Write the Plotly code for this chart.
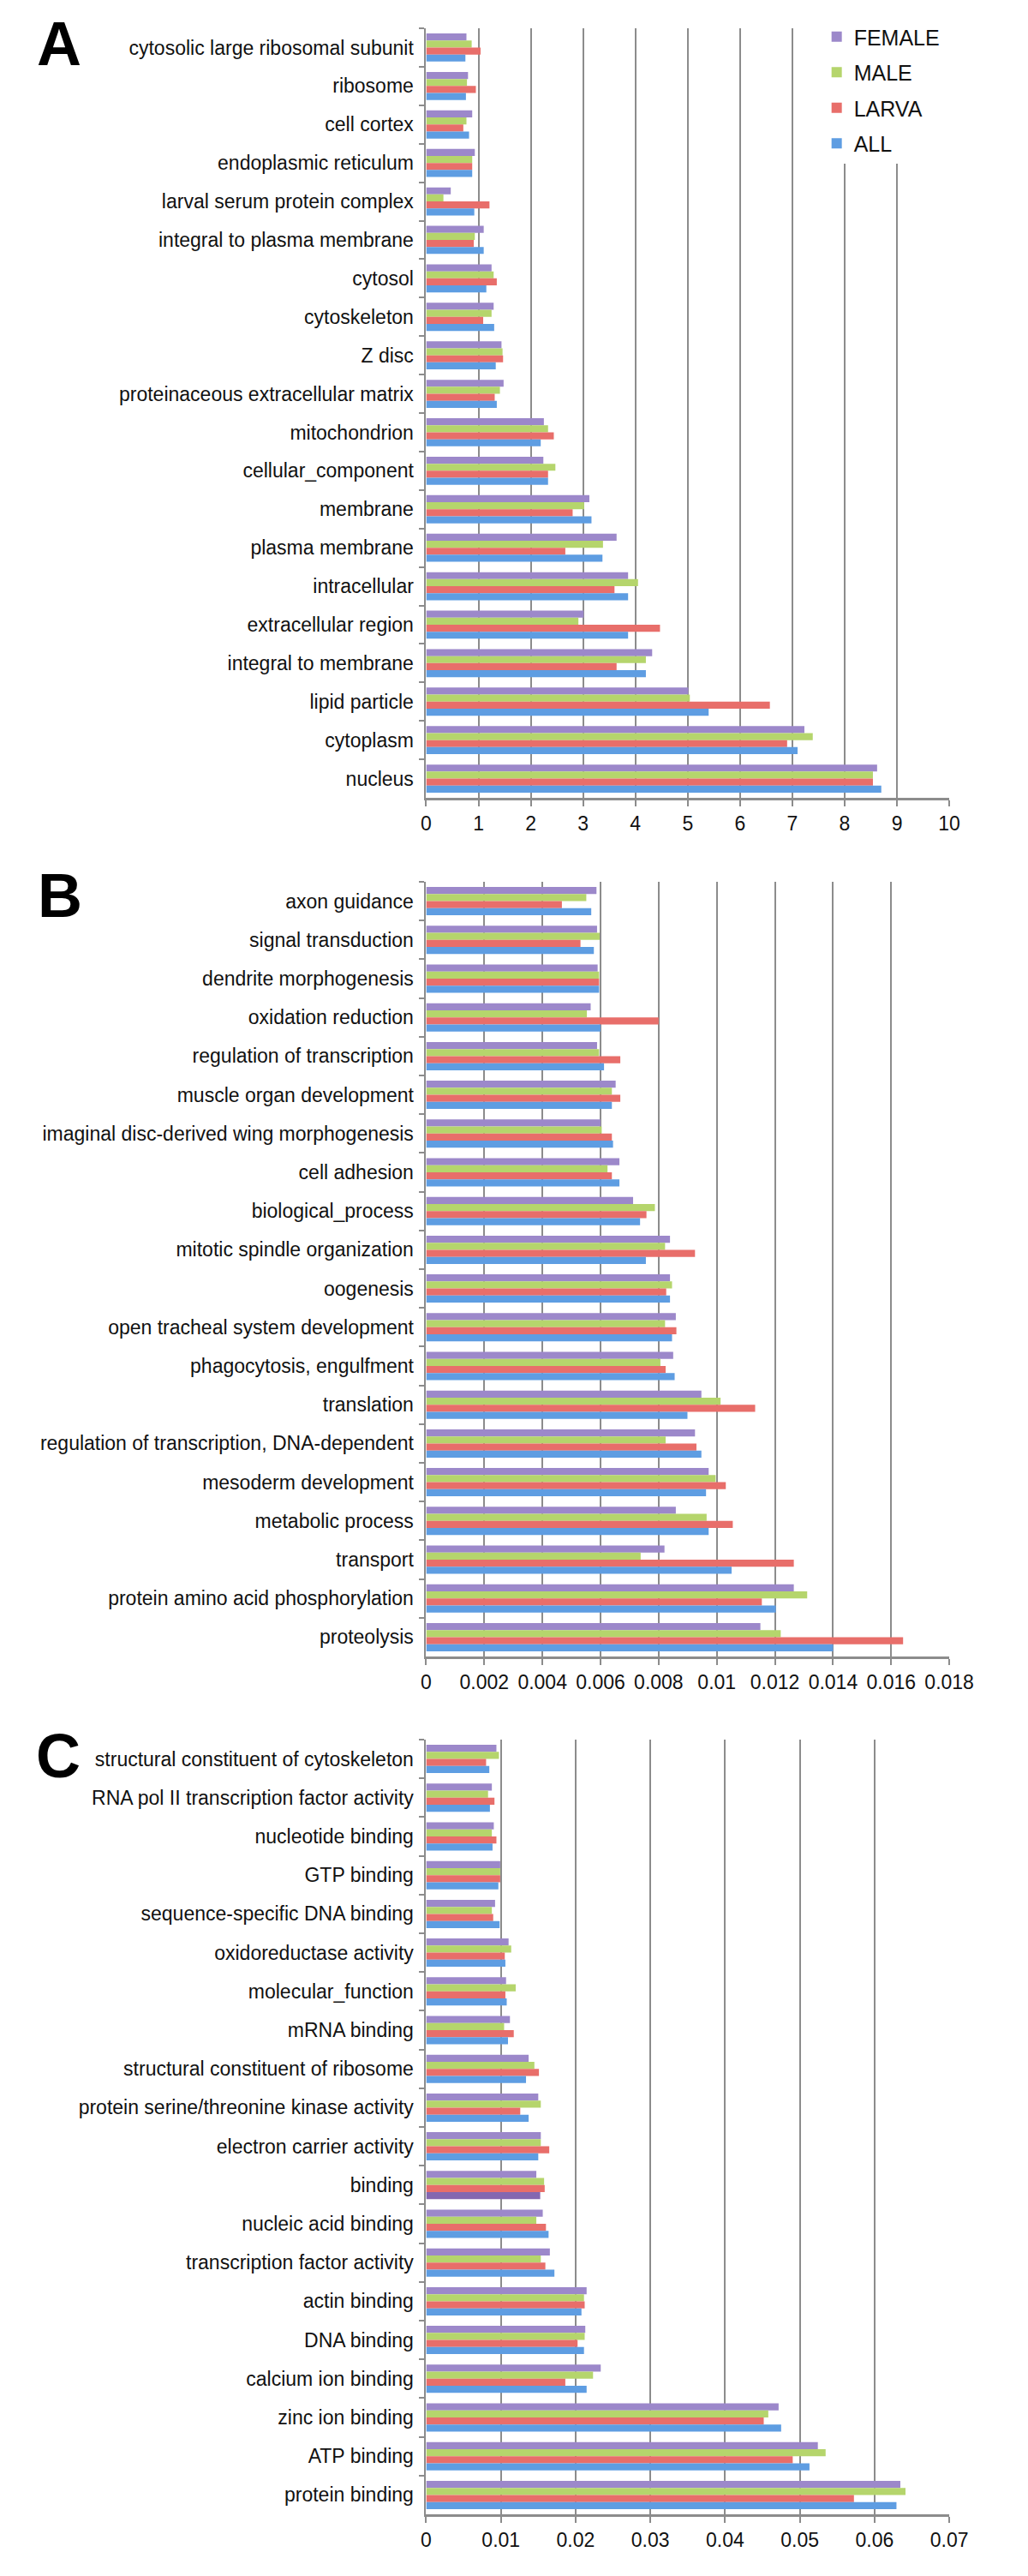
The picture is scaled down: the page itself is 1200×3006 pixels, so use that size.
import plotly.graph_objects as go
from plotly.subplots import make_subplots

# ---- data (categories listed top to bottom as in the figure) ----
series = ["FEMALE", "MALE", "LARVA", "ALL"]

a_cats = ["cytosolic large ribosomal subunit", "ribosome", "cell cortex", "endoplasmic reticulum",
          "larval serum protein complex", "integral to plasma membrane", "cytosol", "cytoskeleton",
          "Z disc", "proteinaceous extracellular matrix", "mitochondrion", "cellular_component",
          "membrane", "plasma membrane", "intracellular", "extracellular region",
          "integral to membrane", "lipid particle", "cytoplasm", "nucleus"]
a_female = [0.77, 0.80, 0.88, 0.93, 0.47, 1.10, 1.25, 1.29, 1.44, 1.48,
            2.25, 2.24, 3.12, 3.64, 3.86, 3.01, 4.32, 5.01, 7.23, 8.62]
a_male = [0.87, 0.78, 0.77, 0.88, 0.33, 0.93, 1.29, 1.25, 1.46, 1.41,
          2.33, 2.47, 3.02, 3.38, 4.05, 2.91, 4.20, 5.04, 7.39, 8.54]
a_larva = [1.04, 0.95, 0.71, 0.88, 1.21, 0.91, 1.35, 1.09, 1.47, 1.31,
           2.44, 2.33, 2.80, 2.66, 3.60, 4.47, 3.64, 6.57, 6.90, 8.54]
a_all = [0.75, 0.76, 0.82, 0.88, 0.92, 1.10, 1.15, 1.30, 1.33, 1.35,
         2.19, 2.33, 3.16, 3.37, 3.86, 3.86, 4.20, 5.40, 7.10, 8.70]
a_ticks = [0, 1, 2, 3, 4, 5, 6, 7, 8, 9, 10]
a_ticktext = ["0", "1", "2", "3", "4", "5", "6", "7", "8", "9", "10"]

b_cats = ["axon guidance", "signal transduction", "dendrite morphogenesis", "oxidation reduction",
          "regulation of transcription", "muscle organ development",
          "imaginal disc-derived wing morphogenesis", "cell adhesion", "biological_process",
          "mitotic spindle organization", "oogenesis", "open tracheal system development",
          "phagocytosis, engulfment", "translation", "regulation of transcription, DNA-dependent",
          "mesoderm development", "metabolic process", "transport",
          "protein amino acid phosphorylation", "proteolysis"]
b_female = [0.00586, 0.00588, 0.00590, 0.00566, 0.00588, 0.00652, 0.00600, 0.00665, 0.00712, 0.00839,
            0.00839, 0.00859, 0.00850, 0.00947, 0.00925, 0.00972, 0.00859, 0.00820, 0.01265, 0.01150]
b_male = [0.00551, 0.00597, 0.00595, 0.00553, 0.00595, 0.00639, 0.00604, 0.00624, 0.00787, 0.00822,
          0.00846, 0.00822, 0.00806, 0.01013, 0.00824, 0.00996, 0.00965, 0.00738, 0.01311, 0.01220]
b_larva = [0.00467, 0.00531, 0.00595, 0.00800, 0.00668, 0.00668, 0.00639, 0.00639, 0.00758, 0.00925,
           0.00826, 0.00861, 0.00824, 0.01132, 0.00930, 0.01031, 0.01055, 0.01265, 0.01155, 0.01641]
b_all = [0.00568, 0.00577, 0.00595, 0.00600, 0.00612, 0.00639, 0.00643, 0.00665, 0.00736, 0.00756,
         0.00839, 0.00846, 0.00855, 0.00899, 0.00947, 0.00963, 0.00972, 0.01051, 0.01203, 0.01400]
b_ticks = [0, 0.002, 0.004, 0.006, 0.008, 0.01, 0.012, 0.014, 0.016, 0.018]
b_ticktext = ["0", "0.002", "0.004", "0.006", "0.008", "0.01", "0.012", "0.014", "0.016", "0.018"]

c_cats = ["structural constituent of cytoskeleton", "RNA pol II transcription factor activity",
          "nucleotide binding", "GTP binding", "sequence-specific DNA binding",
          "oxidoreductase activity", "molecular_function", "mRNA binding",
          "structural constituent of ribosome", "protein serine/threonine kinase activity",
          "electron carrier activity", "binding", "nucleic acid binding",
          "transcription factor activity", "actin binding", "DNA binding", "calcium ion binding",
          "zinc ion binding", "ATP binding", "protein binding"]
c_female = [0.0094, 0.00879, 0.00905, 0.00991, 0.00922, 0.01103, 0.01069, 0.01121, 0.01371, 0.0150,
            0.01534, 0.01474, 0.0156, 0.01655, 0.02147, 0.02129, 0.02336, 0.04716, 0.05241, 0.06345]
c_male = [0.00974, 0.00828, 0.00879, 0.00991, 0.00879, 0.01138, 0.01198, 0.01043, 0.01448, 0.01534,
          0.01534, 0.01578, 0.01474, 0.01534, 0.02112, 0.02121, 0.02233, 0.04578, 0.05345, 0.06414]
c_larva = [0.00802, 0.00914, 0.0094, 0.00991, 0.00897, 0.01052, 0.0106, 0.01172, 0.01509, 0.01259,
           0.01647, 0.01586, 0.01603, 0.01595, 0.02121, 0.02026, 0.01862, 0.04517, 0.04905, 0.05724]
c_all = [0.00845, 0.00853, 0.00888, 0.00966, 0.00983, 0.0106, 0.01078, 0.01095, 0.01336, 0.01371,
         0.0150, 0.01526, 0.01638, 0.01716, 0.02078, 0.02112, 0.02147, 0.0475, 0.05129, 0.06293]
c_ticks = [0, 0.01, 0.02, 0.03, 0.04, 0.05, 0.06, 0.07]
c_ticktext = ["0", "0.01", "0.02", "0.03", "0.04", "0.05", "0.06", "0.07"]

# ---- style ----
W, H = 1200, 3006
FONT = "Liberation Sans, Arial, sans-serif"
colors = {"FEMALE": "#9C88CA", "MALE": "#B5D56C", "LARVA": "#E86E6A", "ALL": "#5E9DE2"}
odd_purple = "#8467B0"   # the one ALL bar drawn purple in panel C ("binding")
GRID = "#8C8C8C"

x0_px, x1_px = 498, 1127
panels = [  # (top px, bottom px)
    (25, 923),
    (1021, 1925),
    (2022, 2926),
]

fig = make_subplots(rows=3, cols=1)

datasets = [
    (a_cats, [a_female, a_male, a_larva, a_all], a_ticks, a_ticktext, 10),
    (b_cats, [b_female, b_male, b_larva, b_all], b_ticks, b_ticktext, 0.018),
    (c_cats, [c_female, c_male, c_larva, c_all], c_ticks, c_ticktext, 0.07),
]

for p, (cats, vals, tv, tt, xmax) in enumerate(datasets):
    for name, v in zip(series, vals):
        col = colors[name]
        if p == 2 and name == "ALL":
            col = [odd_purple if c == "binding" else colors["ALL"] for c in cats]
        fig.add_trace(go.Bar(
            x=v, y=cats, orientation="h", name=name,
            marker=dict(color=col, line=dict(width=0)),
            showlegend=(p == 0), legendgroup=name,
        ), row=p + 1, col=1)

    top, bot = panels[p]
    ax = "" if p == 0 else str(p + 1)
    fig.layout["xaxis" + ax].update(
        domain=[x0_px / W, x1_px / W], range=[0, xmax],
        tickvals=tv, ticktext=tt, showgrid=True, gridcolor=GRID, gridwidth=2,
        showline=True, linecolor=GRID, linewidth=3, ticks="outside", ticklen=7,
        tickwidth=2, tickcolor=GRID, zeroline=False, fixedrange=True,
        tickfont=dict(family=FONT, size=23, color="#111"),
    )
    fig.layout["yaxis" + ax].update(
        domain=[1 - bot / H, 1 - top / H], autorange="reversed",
        showgrid=False, showline=True, linecolor=GRID, linewidth=2,
        ticks="outside", ticklen=6, tickwidth=2, tickcolor=GRID, tickson="boundaries",
        tickfont=dict(family=FONT, size=23, color="#111"), ticklabelstandoff=8,
        fixedrange=True,
    )

# panel letters
for letter, (lx, ly) in zip(["A", "B", "C"], [(57, 43), (58, 1037), (56, 2041)]):
    fig.add_annotation(text="<b>" + letter + "</b>", x=lx / W, y=1 - ly / H,
                       xref="paper", yref="paper", showarrow=False,
                       xanchor="center", yanchor="middle",
                       font=dict(family=FONT, size=72, color="black"))

# white box behind the legend (hides the top of the gridlines)
fig.add_shape(type="rect", xref="paper", yref="paper", layer="above",
              x0=958 / W, x1=1140 / W, y0=1 - 183 / H, y1=1 - 22 / H,
              fillcolor="white", line=dict(width=0))

fig.update_layout(
    width=W, height=H, margin=dict(l=0, r=0, t=0, b=0),
    paper_bgcolor="white", plot_bgcolor="white",
    barmode="group", bargap=0.27, bargroupgap=0,
    font=dict(family=FONT, color="#111"),
    legend=dict(x=971 / W, y=1 - 12 / H, xanchor="left", yanchor="top",
                font=dict(family=FONT, size=25, color="#111"),
                bgcolor="rgba(0,0,0,0)", tracegroupgap=6, itemwidth=30),
)

fig.write_html("out.html")
